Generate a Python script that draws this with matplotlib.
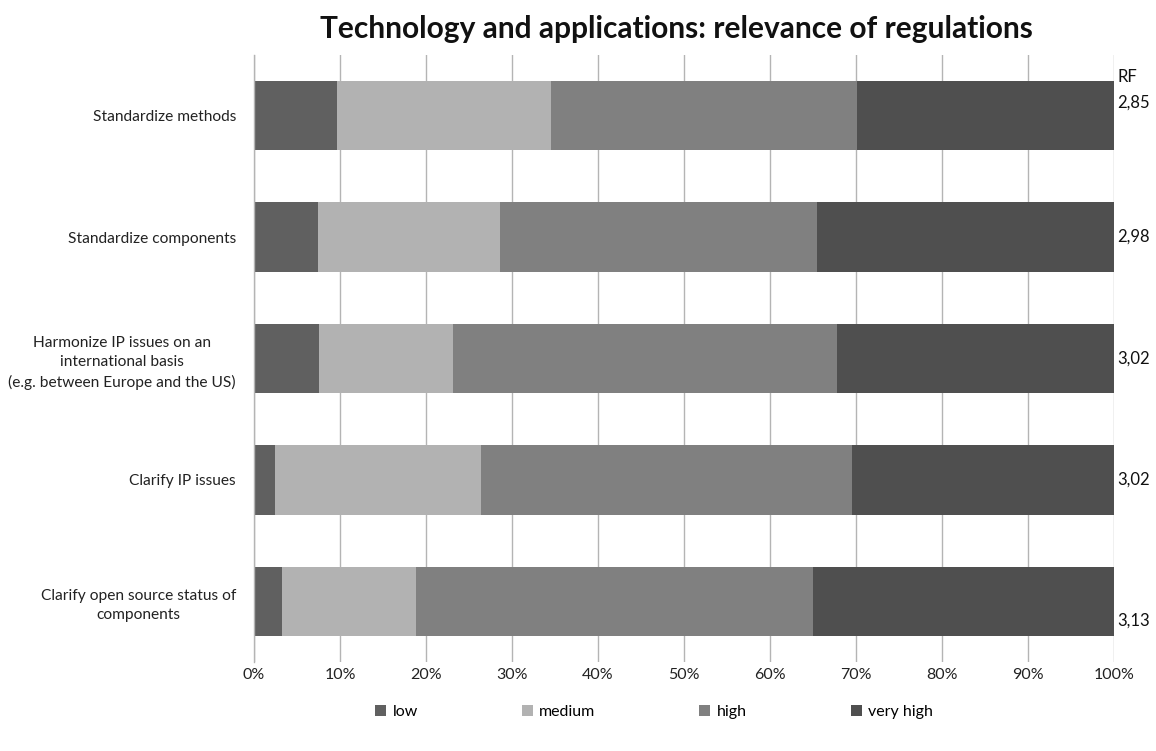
import matplotlib
matplotlib.use("Agg")
import matplotlib.pyplot as plt
import numpy as np
from matplotlib.patches import Patch

plt.rcParams['font.family'] = ['Lato', 'DejaVu Sans']

categories = [
    "Standardize methods",
    "Standardize components",
    "Harmonize IP issues on an\ninternational basis\n(e.g. between Europe and the US)",
    "Clarify IP issues",
    "Clarify open source status of\ncomponents",
]
series_names = ["low", "medium", "high", "very high"]
low = [9.7, 7.5, 7.6, 2.5, 3.3]
medium = [24.9, 21.1, 15.6, 23.9, 15.5]
high = [35.5, 36.9, 44.6, 43.2, 46.2]
very_high = [29.9, 34.5, 32.2, 30.4, 35.0]
rf_values = ["2,85", "2,98", "3,02", "3,02", "3,13"]
# vertical offset of each RF label relative to its bar centre (in bar slots)
rf_offsets = [-0.11, 0.0, 0.0, 0.0, 0.16]
colors = ["#606060", "#b2b2b2", "#808080", "#4f4f4f"]
xticks = np.arange(0, 101, 10)

fig = plt.figure(figsize=(11.56, 7.51), dpi=100)
ax = fig.add_axes([254 / 1156, 1 - 662 / 751, (1113.7 - 254) / 1156, (662 - 55) / 751])

y = np.arange(len(categories))
left = np.zeros(len(categories))
for name, vals, c in zip(series_names, [low, medium, high, very_high], colors):
    ax.barh(y, vals, left=left, height=0.572, color=c, label=name, zorder=2)
    left += np.array(vals)

ax.set_xlim(0, 100)
ax.set_ylim(len(categories) - 0.5, -0.5)
ax.set_xticks(xticks)
ax.set_xticklabels([f"{v}%" for v in xticks], fontsize=11.5, color="#222222")
ax.set_yticks(y)
ax.set_yticklabels(categories, fontsize=11.2, color="#222222", linespacing=1.5,
                   multialignment="center")
ax.tick_params(axis="both", length=0)
ax.tick_params(axis="x", pad=4)
ax.tick_params(axis="y", pad=13)
ax.grid(axis="x", color="#b4b4b4", linewidth=1, zorder=0)
for s in ["top", "right", "bottom"]:
    ax.spines[s].set_visible(False)
ax.spines["left"].set_color("#b4b4b4")
ax.spines["left"].set_linewidth(1)
ax.spines["left"].set_zorder(3)

# RF column on the right
ax.text(100.45, -0.32, "RF", fontsize=12, va="center", ha="left", color="#111111")
for i, (rf, off) in enumerate(zip(rf_values, rf_offsets)):
    ax.text(100.45, i + off, rf, fontsize=12, va="center", ha="left", color="#111111")

fig.text(676 / 1156, 1 - 29 / 751, "Technology and applications: relevance of regulations",
         ha="center", va="center", fontsize=21.5, fontweight="bold", color="#111111")

handles = [Patch(facecolor=c, edgecolor="none") for c in colors]
fig.legend(handles, series_names, loc="center", bbox_to_anchor=(654 / 1156, 1 - 712 / 751),
           ncol=4, frameon=False, fontsize=11.5, handlelength=0.7, handleheight=0.7,
           handletextpad=0.4, columnspacing=6.5)

fig.savefig("out.png", dpi=100)
